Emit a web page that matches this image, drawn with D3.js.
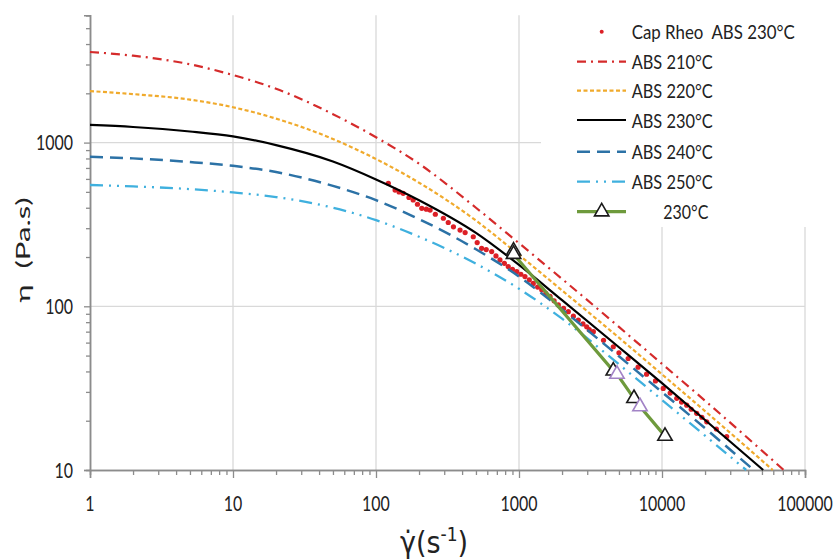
<!DOCTYPE html>
<html>
<head>
<meta charset="utf-8">
<script src="https://cdn.jsdelivr.net/npm/d3@7"></script>
<style>
  html, body { margin: 0; padding: 0; background: #fff; }
  svg { display: block; }
  .narrow { font-family: "Liberation Sans Narrow", "Arial Narrow", "DejaVu Sans Condensed", "Lato", sans-serif; }
  .lato { font-family: "Lato", "Open Sans", sans-serif; }
</style>
</head>
<body>
<svg id="chart" width="837" height="560"></svg>
<script>
// ---------------- DATA ----------------
const shearRate = [1, 2, 5, 10, 20, 50, 100, 200, 500, 1000, 2000, 5000, 10000, 20000];
const abs210 = [3577, 3395, 3008, 2586, 2132, 1492, 1079, 743, 400, 243, 147, 74.8, 44.5, 26.5];
const abs220 = [2064, 1979, 1830, 1644, 1402, 1052, 794, 569, 334, 206, 125, 64.3, 38.4, 22.9];
const abs230 = [1282, 1245, 1169, 1091, 966, 767, 596, 445, 281, 179, 109, 56.2, 33.9, 20.2];
const abs240 = [820, 801, 761, 721, 661, 544, 445, 341, 223, 152, 95.5, 49.5, 29.9, 18.0];
const abs250 = [551, 540, 520, 496, 465, 400, 336, 266, 182, 128, 84, 44.2, 26.8, 16.2];
// shear rate where each model curve reaches eta = 10 (bottom of the axis)
const endShear = [71000, 59500, 51000, 43800, 38800];
const endEta = 10;

const seriesNames = ["ABS 210°C", "ABS 220°C", "ABS 230°C", "ABS 240°C", "ABS 250°C"];

const capShear = [122,136,145,155,170,182,195,209,225,239,260,296,320,348,387,420,479,510,548,590,
  644,690,736,790,841,900,964,1030,1101,1180,1259,1350,1442,1540,1648,1760,1884,2050,2213,2400,
  2600,2800,2974,3100,3311,3900,4565,5000,5800,6800,7800,9000,10200,11400,12680,13700,14890,16000,17490,19000,
  20550,24000,28340];
const capEta = [564,513,500,490,462,446,420,397,392,387,365,345,325,306,292,282,266,245,226,222,
  216,203,192,183,175,168,163,157,152,145,138,131,126,120,115,108,102,97,92.7,87,
  82.4,78,75,72,70,62,56.6,52,48,42.5,38.5,35,31.5,29.5,27.4,26,24.9,23.5,22.2,21,
  19.7,17.8,16.0];

const dieShear = [916, 916, 4564, 4842, 6368, 7018, 10495];
const dieEta = [218, 208, 40.3, 38.5, 27.4, 24.4, 16.1];
const dieMarkerKind = ["k", "k", "k", "p", "k", "p", "k"];

const xMajorTicks = [1, 10, 100, 1000, 10000, 100000];
const yMajorTicks = [10, 100, 1000];
const xTickLabels = ["1", "10", "100", "1000", "10000", "100000"];
const yTickLabels = ["10", "100", "1000"];

// ---------------- LAYOUT ----------------
const svg = d3.select("#chart");
const plotLeft = 90, plotRight = 805, plotBottom = 470;
const x = d3.scaleLog().domain([1, 100000]).range([plotLeft, plotRight]);
const y = d3.scaleLog().domain([10, 6000]).range([plotBottom, 470 - 163.7 * Math.log10(600)]);
const plotTop = y(6000);

const gridColor = "#d9d9d9";
const axisColor = "#8c8c8c";
const textColor = "#222";

// gridlines
svg.append("g").selectAll("line").data(xMajorTicks.slice(1)).join("line")
  .attr("x1", d => x(d)).attr("x2", d => x(d))
  .attr("y1", plotTop).attr("y2", plotBottom)
  .attr("stroke", gridColor).attr("stroke-width", 1.3);
svg.append("g").selectAll("line").data([100, 1000]).join("line")
  .attr("x1", plotLeft).attr("x2", plotRight)
  .attr("y1", d => y(d)).attr("y2", d => y(d))
  .attr("stroke", gridColor).attr("stroke-width", 1.3);

// minor tick values
const xMinor = [];
for (let p = 1; p < 100000; p *= 10) for (let m = 2; m <= 9; m++) xMinor.push(p * m);
const yMinor = [];
for (let p = 10; p < 6000; p *= 10) for (let m = 2; m <= 9; m++) if (p * m <= 6000) yMinor.push(p * m);

// axes
const xAxisMajor = d3.axisBottom(x).tickValues(xMajorTicks).tickSize(8).tickFormat("");
const xAxisMinor = d3.axisBottom(x).tickValues(xMinor).tickSize(5).tickFormat("");
const yAxisMajor = d3.axisLeft(y).tickValues(yMajorTicks).tickSize(6).tickFormat("");
const yAxisMinor = d3.axisLeft(y).tickValues(yMinor).tickSize(4).tickFormat("");

function styleAxis(g) {
  g.selectAll("path").attr("stroke", axisColor).attr("stroke-width", 1.5);
  g.selectAll("line").attr("stroke", axisColor).attr("stroke-width", 1.3);
}
svg.append("g").attr("transform", `translate(0,${plotBottom})`).call(xAxisMinor).call(styleAxis);
svg.append("g").attr("transform", `translate(0,${plotBottom})`).call(xAxisMajor).call(styleAxis);
svg.append("g").attr("transform", `translate(${plotLeft},0)`).call(yAxisMinor).call(styleAxis);
svg.append("g").attr("transform", `translate(${plotLeft},0)`).call(yAxisMajor).call(styleAxis);

// tick labels: Lato, horizontally compressed to the narrow Calibri-like look
const squeeze = 0.76;
svg.append("g").selectAll("text").data(xMajorTicks).join("text")
  .attr("class", "lato")
  .attr("transform", d => `translate(${x(d)},503) scale(${squeeze},1)`)
  .attr("text-anchor", "middle").attr("dominant-baseline", "central")
  .attr("font-size", 21).attr("fill", textColor)
  .text((d, i) => xTickLabels[i]);
svg.append("g").selectAll("text").data(yMajorTicks).join("text")
  .attr("class", "lato")
  .attr("transform", d => `translate(73,${y(d)}) scale(${squeeze},1)`)
  .attr("text-anchor", "end").attr("dominant-baseline", "central")
  .attr("font-size", 21).attr("fill", textColor)
  .text((d, i) => yTickLabels[i]);

// axis titles
svg.append("text")
  .attr("class", "lato")
  .attr("transform", "translate(30,250) rotate(-90)")
  .attr("text-anchor", "middle")
  .attr("font-size", 20).attr("fill", textColor)
  .attr("textLength", 105).attr("lengthAdjust", "spacingAndGlyphs")
  .style("white-space", "pre")
  .text("η  (Pa.s)");

const xt = svg.append("text").attr("class", "narrow")
  .attr("x", 434).attr("y", 553)
  .attr("text-anchor", "middle")
  .attr("font-size", 30).attr("fill", textColor);
xt.append("tspan").text("γ̇(s");
xt.append("tspan").attr("font-size", 19).attr("dy", -12).text("-1");
xt.append("tspan").attr("dy", 12).text(")");

// ---------------- MARKS ----------------
// capillary rheometer dots
const capData = capShear.map((s, i) => ({ s, e: capEta[i] }));
svg.append("g").selectAll("circle").data(capData).join("circle")
  .attr("cx", d => x(d.s)).attr("cy", d => y(d.e))
  .attr("r", 2.6).attr("fill", "#dc1f26");

const styles = [
  { color: "#d52b2b", width: 2.2, dash: "9,5,2,5" },
  { color: "#f0aa2c", width: 2.2, dash: "4,2.5" },
  { color: "#000000", width: 2.2, dash: null },
  { color: "#2c72a6", width: 2.5, dash: "13,7" },
  { color: "#3fb0de", width: 2.3, dash: "13,6,2,6,2,6" }
];
const seriesVals = [abs210, abs220, abs230, abs240, abs250];

const line = d3.line().x(d => x(d.s)).y(d => y(d.e)).curve(d3.curveMonotoneX);

seriesVals.forEach((vals, k) => {
  const pts = shearRate.map((s, i) => ({ s, e: vals[i] }));
  pts.push({ s: endShear[k], e: endEta });
  const p = svg.append("path").datum(pts)
    .attr("d", line).attr("fill", "none")
    .attr("stroke", styles[k].color).attr("stroke-width", styles[k].width);
  if (styles[k].dash) p.attr("stroke-dasharray", styles[k].dash);
});

// die (230°C) green line + triangles
const dieData = dieShear.map((s, i) => ({ s, e: dieEta[i], k: dieMarkerKind[i] }));
svg.append("path").datum(dieData)
  .attr("d", d3.line().x(d => x(d.s)).y(d => y(d.e)))
  .attr("fill", "none").attr("stroke", "#6e9a3c").attr("stroke-width", 3.2);

const tri = d3.symbol().type(d3.symbolTriangle).size(90);
svg.append("g").selectAll("path").data(dieData).join("path")
  .attr("transform", d => `translate(${x(d.s)},${y(d.e)})`)
  .attr("d", tri)
  .attr("fill", "#fff")
  .attr("stroke", d => d.k === "p" ? "#a283c6" : "#1a1a1a")
  .attr("stroke-width", 1.6);

// ---------------- LEGEND ----------------
svg.append("rect").attr("x", 541).attr("y", 0).attr("width", 284).attr("height", 227).attr("fill", "#fff");
const legY = [31.7, 61.7, 90.7, 120, 151.7, 181.7, 211.7];
const legTextW = [163, 81, 81, 81, 81, 81, 45];
const lx1 = 577, lx2 = 626;
const lg = svg.append("g");
function legText(xx, yy, txt, w) {
  lg.append("text").attr("class", "lato").attr("x", xx).attr("y", yy)
    .attr("dominant-baseline", "central").attr("font-size", 19).attr("fill", textColor)
    .attr("textLength", w).attr("lengthAdjust", "spacingAndGlyphs")
    .style("white-space", "pre").text(txt);
}
lg.append("circle").attr("cx", 601.7).attr("cy", legY[0]).attr("r", 2).attr("fill", "#dc1f26");
legText(631.7, legY[0], "Cap Rheo  ABS 230°C", legTextW[0]);
seriesNames.forEach((name, k) => {
  const yy = legY[k + 1];
  const l = lg.append("line").attr("x1", lx1).attr("x2", lx2).attr("y1", yy).attr("y2", yy)
    .attr("stroke", styles[k].color).attr("stroke-width", styles[k].width);
  if (styles[k].dash) l.attr("stroke-dasharray", styles[k].dash);
  legText(631.7, yy, name, legTextW[k + 1]);
});
lg.append("line").attr("x1", lx1).attr("x2", lx2).attr("y1", legY[6]).attr("y2", legY[6])
  .attr("stroke", "#6e9a3c").attr("stroke-width", 3.2);
lg.append("path").attr("transform", `translate(601.7,${legY[6]})`).attr("d", tri)
  .attr("fill", "#fff").attr("stroke", "#1a1a1a").attr("stroke-width", 1.6);
legText(663.3, legY[6], "230°C", legTextW[6]);
</script>
</body>
</html>
